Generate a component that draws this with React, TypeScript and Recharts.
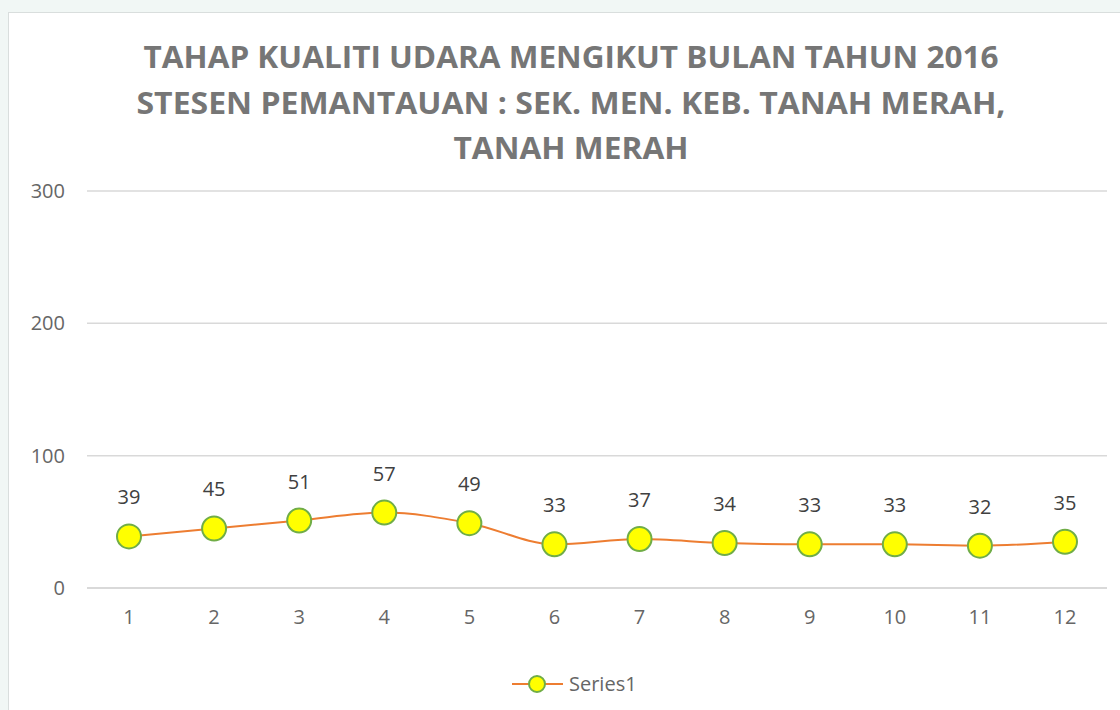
import { LineChart, Line, XAxis, YAxis, CartesianGrid, LabelList } from "recharts";

const months = ["1", "2", "3", "4", "5", "6", "7", "8", "9", "10", "11", "12"];
const aqiValues = [39, 45, 51, 57, 49, 33, 37, 34, 33, 33, 32, 35];
const yTicks = [0, 100, 200, 300];
const titleLines = [
  "TAHAP KUALITI UDARA MENGIKUT BULAN TAHUN 2016",
  "STESEN PEMANTAUAN : SEK. MEN. KEB. TANAH MERAH,",
  "TANAH MERAH",
];
const seriesName = "Series1";

const data = months.map((m, i) => ({ month: m, value: aqiValues[i] }));

const FONT = "'Open Sans', 'Liberation Sans', sans-serif";
const LINE_COLOR = "#ED7D31";
const DOT_FILL = "#FFFF00";
const DOT_STROKE = "#70AD47";

const titleWidths = [855, 869, 235];
const titleY = [68, 114, 159];

export default function App() {
  return (
    <div
      style={{
        position: "fixed",
        left: 0,
        top: 0,
        width: 1120,
        height: 710,
        background: "#f1f7f5",
        overflow: "hidden",
        fontFamily: FONT,
      }}
    >
      <div
        style={{
          position: "absolute",
          left: 8,
          top: 12,
          width: 1130,
          height: 720,
          background: "#ffffff",
          border: "1px solid #d9dedd",
        }}
      />
      <div style={{ position: "absolute", left: 0, top: 0 }}>
        <LineChart
          width={1120}
          height={710}
          data={data}
          margin={{ top: 191, right: 13, left: 17, bottom: 72 }}
        >
          <CartesianGrid vertical={false} stroke="#d9d9d9" strokeWidth={1.5} />
          <XAxis
            dataKey="month"
            axisLine={{ stroke: "#d9d9d9", strokeWidth: 2 }}
            tickLine={false}
            tickSize={0}
            tickMargin={22}
            height={50}
            padding={{ left: 42, right: 42 }}
            tick={{ fill: "#666666", fontSize: 20, fontFamily: FONT }}
          />
          <YAxis
            domain={[0, 300]}
            ticks={yTicks}
            axisLine={false}
            tickLine={false}
            tickSize={0}
            tickMargin={22}
            width={70}
            tick={{ fill: "#666666", fontSize: 20, fontFamily: FONT }}
          />
          <Line
            type="monotone"
            dataKey="value"
            name={seriesName}
            stroke={LINE_COLOR}
            strokeWidth={2}
            isAnimationActive={false}
            dot={{ r: 12, fill: DOT_FILL, stroke: DOT_STROKE, strokeWidth: 2 }}
            activeDot={false}
          >
            <LabelList
              dataKey="value"
              position="top"
              offset={32}
              fill="#404040"
              fontSize={20}
              fontFamily={FONT}
            />
          </Line>
        </LineChart>
      </div>
      <svg
        width={1120}
        height={710}
        style={{ position: "absolute", left: 0, top: 0, pointerEvents: "none" }}
      >
        {titleLines.map((t, i) => (
          <text
            key={t}
            x={571}
            y={titleY[i]}
            textAnchor="middle"
            fontFamily={FONT}
            fontWeight={700}
            fontSize={31}
            fill="#767676"
            textLength={titleWidths[i]}
            lengthAdjust="spacingAndGlyphs"
          >
            {t}
          </text>
        ))}
        <g>
          <line x1={512} y1={684} x2={563} y2={684} stroke={LINE_COLOR} strokeWidth={2} />
          <circle cx={537} cy={684} r={8} fill={DOT_FILL} stroke={DOT_STROKE} strokeWidth={2} />
          <text x={569} y={691} fontFamily={FONT} fontSize={20} fill="#666666">
            {seriesName}
          </text>
        </g>
      </svg>
    </div>
  );
}
